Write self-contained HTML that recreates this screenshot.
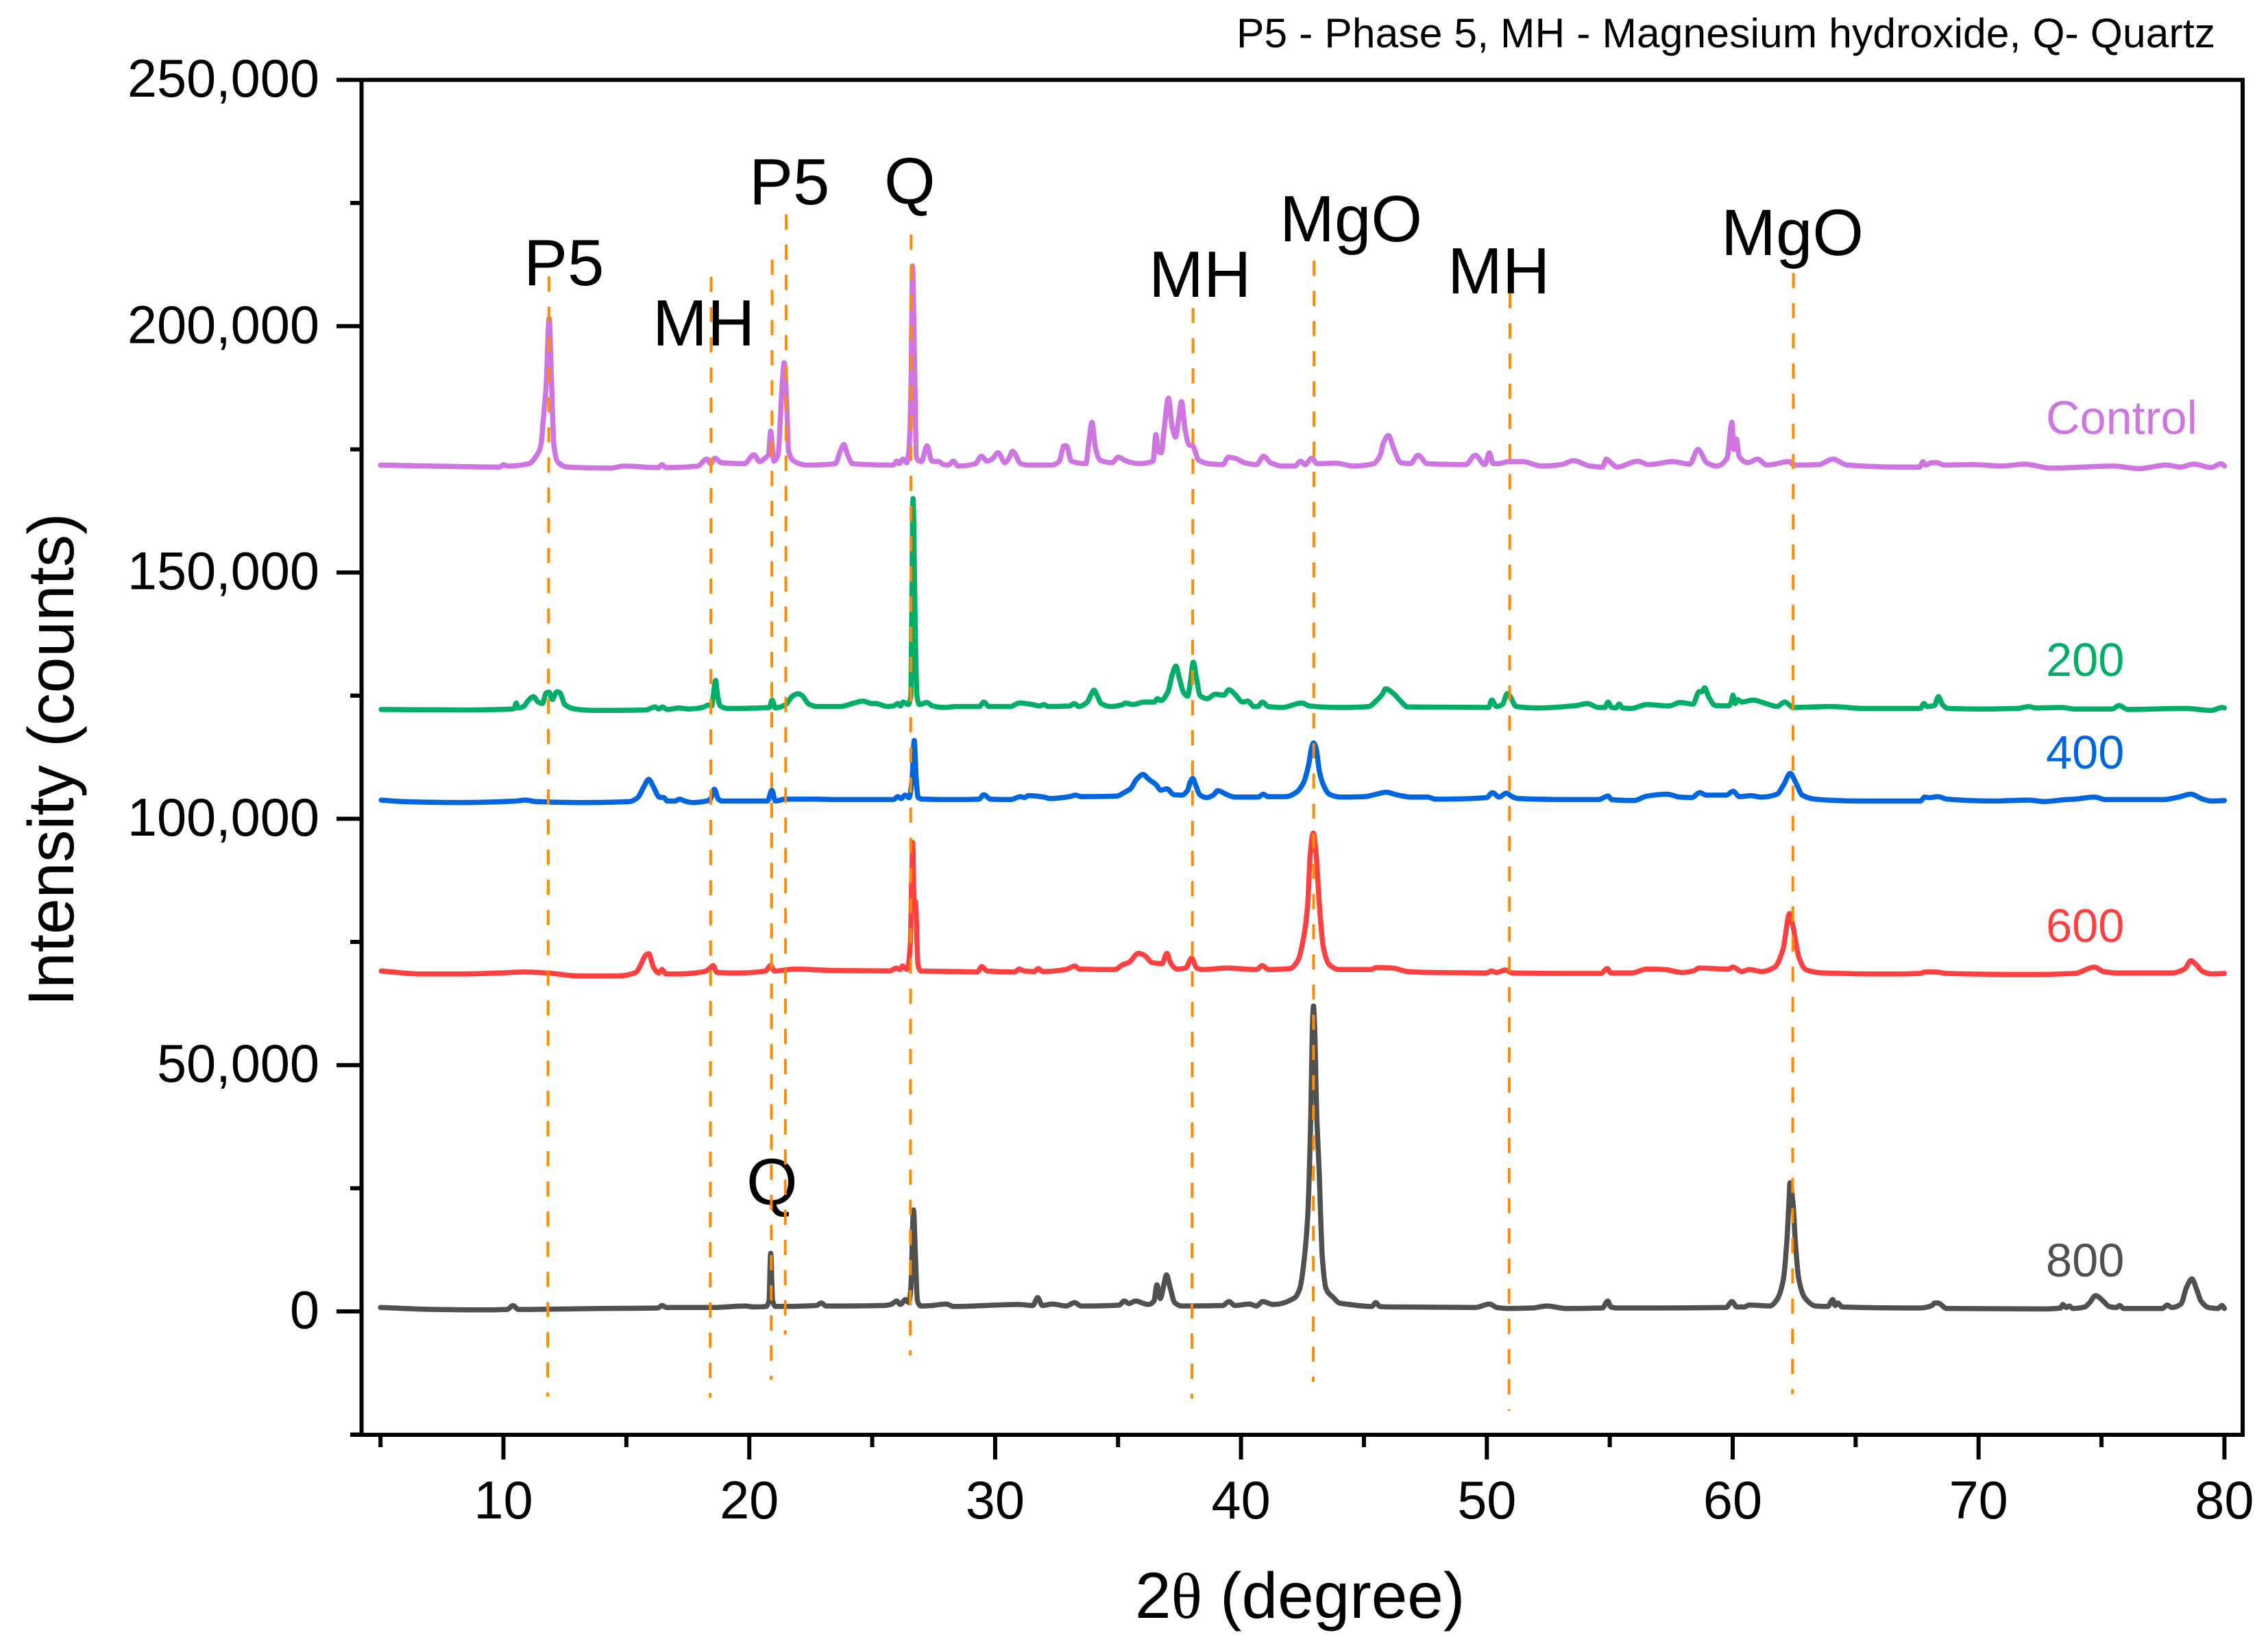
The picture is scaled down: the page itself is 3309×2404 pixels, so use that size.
<!DOCTYPE html>
<html lang="en">
<head>
<meta charset="utf-8">
<title>XRD patterns</title>
<style>
html,body{margin:0;padding:0;background:#fff;}
svg{display:block;}
text{font-family:"Liberation Sans",Arial,sans-serif;fill:#000;}
</style>
</head>
<body>
<svg id="chart" xmlns="http://www.w3.org/2000/svg" width="3309" height="2404" viewBox="0 0 3309 2404">
<rect x="0" y="0" width="3309" height="2404" fill="#fff"/>
<g id="series-layer" fill="none" stroke-width="7.5" stroke-linejoin="round" stroke-linecap="round"></g>
<text x="1804" y="69" font-size="60.5" textLength="1428">P5 - Phase 5, MH - Magnesium hydroxide, Q- Quartz</text>
<text x="764" y="416" font-size="96">P5</text>
<text x="952" y="504" font-size="96">MH</text>
<text x="1093" y="298" font-size="96">P5</text>
<text x="1290" y="297" font-size="96">Q</text>
<text x="1676" y="433" font-size="96">MH</text>
<text x="1867" y="352" font-size="96">MgO</text>
<text x="2112" y="428" font-size="96">MH</text>
<text x="2511" y="372" font-size="96">MgO</text>
<text x="1089" y="1757" font-size="96">Q</text>
<text x="2985" y="633" font-size="68.5" style="fill:#CE75E2">Control</text>
<text x="2985" y="986" font-size="68.5" style="fill:#00AE68">200</text>
<text x="2985" y="1121" font-size="68.5" style="fill:#0066E0">400</text>
<text x="2985" y="1374" font-size="68.5" style="fill:#FF4040">600</text>
<text x="2985" y="1862" font-size="68.5" style="fill:#505050">800</text>
<g id="marker-layer" fill="none" stroke="#FF8C00" stroke-width="4"></g>
<g id="axis-layer" stroke="#000" fill="none" stroke-width="6">
<path d="M491 116.5H3272V2093H511M527.5 116.5V2093"/>
</g>
<g id="label-layer"></g>
<text x="1656" y="2360" font-size="94.5">2<tspan style="font-family:'Liberation Serif',serif">θ</tspan> (degree)</text>
<text transform="translate(107 1468) rotate(-90)" x="0" y="0" font-size="94.5">Intensity (counts)</text>
</svg>
<script>
const xMajorTicks = [10, 20, 30, 40, 50, 60, 70, 80];
const xMinorTicks = [5, 15, 25, 35, 45, 55, 65, 75];
const yMajorTicks = [0, 50000, 100000, 150000, 200000, 250000];
const yMinorTicks = [-25000, 25000, 75000, 125000, 175000, 225000];
const yTickLabels = ["0", "50,000", "100,000", "150,000", "200,000", "250,000"];

const markerPhases = ["P5", "MH", "Q", "P5", "Q", "MH", "MgO", "MH", "MgO"];
const markerThetaTop = [11.85, 18.45, 20.93, 21.5, 26.58, 38.05, 42.97, 50.94, 62.47];
const markerThetaBottom = [11.80, 18.41, 20.89, 21.46, 26.55, 38.0, 42.94, 50.9, 62.43];
const markerTopCounts = [210100, 210000, 213500, 222700, 218600, 203700, 213300, 206700, 210800];
const markerBottomCounts = [-17300, -17500, -13900, -4700, -8900, -17700, -14300, -20200, -16800];

const seriesNames = ["control", "200", "400", "600", "800"];
const seriesColors = ["#CE75E2", "#00AE68", "#0066E0", "#FF4040", "#505050"];

/* each point: [2-theta in degrees, intensity in thousands of counts] */
const controlPoints = [[5,171.8],[9.86,171.4],[10,171.9],[10.16,171.6],[11.04,172.1],[11.33,173.6],[11.53,176],[11.62,181],[11.74,188.1],[11.86,201.6],[11.96,188.1],[12.05,176],[12.2,172.5],[12.6,171.4],[14.36,171.2],[14.9,171.6],[16.3,171.3],[16.45,171.9],[16.6,171.3],[17.9,171.6],[18.27,173],[18.43,172.1],[18.6,173.2],[18.86,172.3],[19.8,172.1],[20.19,173.9],[20.42,172.5],[20.68,173.4],[20.78,173.9],[20.87,178.7],[21,172.6],[21.17,173.9],[21.32,186.7],[21.42,192.6],[21.52,184.6],[21.6,174.6],[21.85,172.5],[22.34,171.8],[23.5,172.1],[23.7,174.6],[23.85,176],[24,173.9],[24.2,172.1],[25.86,171.8],[26,172.6],[26.1,172.1],[26.25,173],[26.41,172.3],[26.5,175.3],[26.58,188.1],[26.64,212.2],[26.72,193.4],[26.8,173.2],[27,172.5],[27.23,175.7],[27.43,172.6],[27.72,172.5],[27.9,171.9],[28.1,171.8],[28.3,172.6],[28.5,171.6],[29.2,172.1],[29.44,173.6],[29.67,172.6],[29.87,173],[30.12,174.3],[30.4,172.3],[30.56,173.2],[30.71,174.6],[31.04,172.1],[31.34,171.8],[32.3,171.8],[32.6,172.5],[32.8,175.7],[32.9,175.7],[33.1,172.6],[33.7,172.1],[33.8,176],[33.94,180.5],[34.08,175.3],[34.27,172.8],[34.76,172.3],[35,173.4],[35.35,172.6],[35.84,172.1],[36.42,172.6],[36.54,178],[36.64,174.6],[36.76,174.3],[36.87,178.9],[37.05,185.4],[37.2,179.6],[37.34,177.5],[37.46,181],[37.58,184.7],[37.73,178.9],[37.89,175.9],[38.03,175.7],[38.28,172.8],[38.67,172.1],[39.26,171.9],[39.49,173.4],[39.75,173.2],[40.14,172.3],[40.63,171.9],[40.92,173.6],[41.2,172.3],[41.7,171.6],[42.19,171.6],[42.43,172.6],[42.6,171.9],[42.88,173.2],[43.1,172.1],[43.85,172.2],[44.6,171.6],[45.4,172.1],[45.67,173.9],[45.8,176.4],[46,177.8],[46.2,175.3],[46.5,172.3],[46.89,172.1],[47.2,173.8],[47.57,172.1],[49.14,171.9],[49.53,173.8],[49.92,171.9],[50.1,174.3],[50.25,172.1],[50.5,172.1],[50.86,172.5],[51.45,172.5],[52.24,171.6],[53.03,171.9],[53.52,172.7],[54.2,171.6],[54.7,171.4],[54.86,173],[55.04,172.3],[55.3,171.4],[56.14,172.6],[56.58,171.9],[57.56,172.5],[58.25,172],[58.59,175],[58.94,172.3],[59.34,171.6],[59.77,173.2],[59.97,180.5],[60.05,175],[60.15,177.1],[60.26,173.6],[60.62,172.3],[61,173],[61.4,171.8],[62.3,172.5],[62.49,171.8],[63.5,171.9],[64.07,173],[64.66,171.8],[66.93,171.4],[67.6,171.4],[67.74,172.5],[67.85,171.8],[68.1,172.3],[68.3,172.3],[68.6,171.8],[69.8,171.9],[70.97,171.6],[71.86,172],[72.94,171.2],[75.5,171.6],[76.5,171.1],[77.67,171.8],[78.2,171.4],[78.76,172],[79.45,171.3],[79.88,172.1],[80,171.6]];

const points200 = [[5.03,122.2],[8.26,122.1],[10.34,122.3],[10.44,122.4],[10.52,123.5],[10.6,122.5],[10.82,122.8],[11.01,124],[11.22,124.8],[11.41,123.7],[11.59,123.4],[11.73,125.5],[11.86,125.7],[11.99,124.2],[12.12,125.5],[12.18,125.8],[12.29,125.6],[12.5,123.2],[12.9,122.3],[13.7,122],[15.78,122.1],[16.18,122.7],[16.31,122.3],[16.47,122.7],[16.66,122.2],[17.14,122.5],[17.54,122.3],[18.1,122.6],[18.34,123.1],[18.47,122.9],[18.55,125.6],[18.63,128.1],[18.71,125],[18.82,122.9],[19.14,122.4],[20.82,122.6],[20.93,124.1],[21.06,122.5],[21.46,123.1],[21.78,125],[21.99,125.4],[22.15,125],[22.42,123.3],[22.74,122.8],[23.7,122.8],[24.26,123.5],[24.62,123.9],[24.98,123.4],[25.14,123.4],[25.62,122.8],[25.86,122.9],[26.04,123.4],[26.15,122.9],[26.26,123.7],[26.47,123.2],[26.57,125],[26.66,165],[26.76,135.7],[26.82,125],[26.92,123.2],[27.22,123.6],[27.46,122.9],[27.94,122.6],[28.42,122.8],[28.55,122.8],[29.35,122.8],[29.54,123.7],[29.75,122.8],[30.63,122.8],[30.98,123.5],[31.51,123.2],[31.8,122.9],[31.99,123.2],[32.15,122.8],[33.03,122.9],[33.22,123.4],[33.4,122.8],[33.75,123.7],[33.91,125.3],[34.02,126.1],[34.15,125],[34.31,123.4],[34.71,122.8],[35.19,123.2],[35.3,123.5],[35.59,123.2],[36.07,123.7],[36.47,123.7],[36.6,124.4],[36.74,124],[37.03,125.8],[37.19,129],[37.35,131],[37.51,128.2],[37.67,125.6],[37.83,124.9],[37.94,127.7],[38.06,131.8],[38.18,128.8],[38.34,125],[38.63,124.4],[38.95,125.3],[39.3,125.1],[39.51,126.2],[39.75,125.3],[40.07,123.7],[40.28,123.9],[40.52,122.8],[40.68,122.8],[40.87,123.7],[41.11,122.8],[41.67,122.6],[42.47,123.5],[42.79,122.9],[44.07,122.6],[45.19,122.8],[45.51,124],[45.75,125.3],[45.88,126.4],[46.23,125.3],[46.47,124],[46.79,122.7],[50.07,122.6],[50.2,124.1],[50.39,122.8],[50.63,123.2],[50.83,125.4],[50.95,124.8],[51.19,122.8],[52.07,122.5],[53.64,123],[54.09,123.4],[54.54,122.6],[54.8,122.6],[54.93,123.7],[55.08,122.6],[55.25,122.5],[55.38,123.3],[55.52,122.5],[55.88,122.4],[56.51,123.2],[57.41,122.9],[57.86,123.6],[58.39,123.3],[58.63,125.8],[58.75,125.8],[58.86,126.6],[59.02,124.8],[59.29,123],[59.83,122.9],[59.94,123.7],[60.01,125.1],[60.1,123.4],[60.2,124.2],[60.37,123.7],[60.82,124.1],[61.35,123.4],[61.8,122.8],[62.11,123.7],[62.47,122.6],[64.05,122.8],[65.3,122.4],[67.63,122.4],[67.78,123.4],[67.9,122.8],[68.2,123],[68.37,124.8],[68.53,123.2],[68.75,122.4],[70.14,122.3],[71.58,122.4],[72.06,122.8],[72.3,122.5],[73.37,122.6],[73.91,122.3],[75.44,122.3],[75.71,123],[76.07,122.2],[78.4,122.4],[79.47,122],[79.92,122.6],[80,122.5]];

const points400 = [[5.03,103.8],[5.86,103.5],[8.26,103.3],[10.5,103.6],[10.9,103.8],[11.3,103.5],[13.06,103.3],[15.14,103.5],[15.46,104.3],[15.7,106.4],[15.91,108],[16.1,106.5],[16.34,104.4],[16.53,104.3],[16.66,103.6],[16.98,103.6],[17.17,104],[17.38,103.6],[17.7,103.3],[18.26,103.6],[18.42,104],[18.58,106],[18.74,104],[18.9,103.6],[20.74,103.6],[20.92,105.8],[21.06,103.6],[21.46,104],[22.66,104],[23.46,103.9],[25.86,103.9],[26.04,104.5],[26.18,104.1],[26.33,104.8],[26.5,104.3],[26.62,108],[26.71,115.9],[26.79,108],[26.87,104.3],[27.06,104],[28.55,103.9],[29.35,104],[29.54,104.9],[29.8,104],[30.63,103.9],[31.03,104.5],[31.19,104.3],[31.35,104.7],[32,104.4],[32.23,104.1],[33.03,104.5],[33.27,104.8],[33.51,104.5],[34.95,104.6],[35.27,105.4],[35.51,106.1],[35.75,108],[36.02,109],[36.23,108.1],[36.55,106.9],[36.74,105.8],[36.98,106.1],[37.27,104.9],[37.59,104.8],[37.83,105.8],[37.93,107.4],[38.04,108.2],[38.15,106.9],[38.34,104.8],[38.6,104.3],[38.87,104.8],[39.06,105.7],[39.43,104.9],[39.75,104.4],[40.71,104.4],[40.9,105],[41.11,104.5],[41.83,104.5],[42.23,105.3],[42.55,107.4],[42.76,111.2],[42.87,114.4],[42.95,115.4],[43.05,114.4],[43.19,109.6],[43.35,106.9],[43.59,105],[44.07,104.4],[45.03,104.5],[45.51,105],[45.91,105.4],[46.31,104.9],[46.95,104.4],[47.59,104.4],[47.91,104],[49.99,104.3],[50.23,105.3],[50.5,104.4],[50.79,105.2],[51.03,104.5],[51.27,104.1],[53.64,103.9],[54.54,103.9],[54.93,104.6],[55.08,103.9],[55.97,103.7],[56.51,104.6],[57.32,105],[57.86,104.4],[58.34,104.3],[58.66,105.3],[58.93,104.8],[59.74,104.8],[60.01,105.6],[60.28,104.5],[60.73,104.7],[61.17,104.4],[61.8,105],[62.07,106.9],[62.34,109.2],[62.56,107.4],[62.83,104.8],[63.33,104],[65.12,103.6],[67.63,103.6],[67.81,104.4],[67.99,104.3],[68.35,104.5],[68.71,104],[70.68,103.6],[72.03,103.8],[72.66,103.5],[73.55,103.9],[73.91,104],[74.72,104.4],[75.17,103.9],[77.5,103.9],[78.13,104.4],[78.63,105],[79.12,104],[79.47,103.6],[80,103.7]];

const points600 = [[5.03,69.1],[6.66,68.5],[8.26,68.5],[9.86,68.7],[10.82,68.9],[11.78,68.7],[13.06,68.1],[14.66,68.1],[15.38,68.8],[15.59,70.4],[15.78,72.3],[15.91,72.6],[16.1,69.9],[16.31,68.7],[16.45,69.4],[16.62,68.5],[17.06,68.5],[18.18,69],[18.38,69.6],[18.53,70.2],[18.69,68.8],[19.46,68.7],[20.66,69.1],[20.87,70.2],[21.03,69.1],[21.86,69.5],[23.46,69.2],[25.7,69.1],[25.99,69.7],[26.12,69.4],[26.23,70.1],[26.42,69.4],[26.55,74.4],[26.65,95.2],[26.7,83.5],[26.76,83.2],[26.86,70.4],[26.98,69.1],[28.55,69],[29.27,68.9],[29.46,70],[29.67,69.1],[30.79,68.9],[30.98,69.5],[31.19,69.1],[31.59,69],[31.75,69.6],[31.94,69],[32.87,69.4],[33.24,70.1],[33.43,69.5],[34.87,69.4],[35.19,70.4],[35.43,70.8],[35.83,72.7],[36.07,72.3],[36.39,70.8],[36.79,70.6],[36.98,72.7],[37.14,70.7],[37.4,69.5],[37.75,69.7],[37.99,71.7],[38.2,69.7],[38.47,69.4],[39.43,69.7],[40.63,69.4],[40.87,70.2],[41.11,69.4],[41.99,69.6],[42.31,71.2],[42.55,76],[42.71,82.4],[42.82,93.1],[42.94,97.1],[43.05,93.1],[43.19,82.4],[43.35,73.9],[43.59,70.4],[43.99,69.4],[45.27,69.4],[45.51,69.8],[46.15,69.7],[46.79,69],[47.75,68.8],[49.99,68.7],[50.19,69.1],[50.39,68.8],[50.76,69.3],[51.03,68.7],[53.64,68.6],[54.63,68.6],[54.9,69.6],[55.04,68.7],[55.88,68.7],[56.51,69.5],[57.23,69.4],[57.95,68.8],[58.39,69.1],[58.63,69.7],[59.83,69.5],[60.01,69.9],[60.37,69],[60.67,69.4],[61.17,69],[61.71,69.9],[62.04,73.4],[62.32,80.8],[62.43,78.7],[62.7,71.8],[62.97,69.4],[63.69,68.7],[66.2,68.5],[67.63,68.6],[67.81,68.9],[68.26,68.9],[68.71,68.6],[72.12,68.4],[73.91,68.6],[74.72,69.9],[75.08,69],[75.62,68.7],[77.86,68.7],[78.4,69.6],[78.63,71.2],[78.85,70.4],[79.12,69],[79.47,68.5],[80,68.6]];

const points800 = [[5,0.8],[7.12,0.4],[9.08,0.3],[10.16,0.4],[10.39,1.2],[10.6,0.4],[13.97,0.6],[16.28,0.7],[16.45,1.2],[16.63,0.8],[18.47,0.8],[19.84,1.1],[20.19,0.9],[20.68,1],[20.8,2.1],[20.87,11.8],[20.95,2.1],[21.07,1],[22.73,1.2],[22.93,1.7],[23.12,1.1],[25.47,1.2],[25.76,1.4],[26,2.1],[26.14,1.4],[26.35,2.4],[26.49,1.8],[26.57,4.6],[26.68,20.6],[26.76,10.9],[26.84,2.1],[26.98,1.1],[27.43,1.2],[28.01,1.5],[28.31,1],[30.95,1.4],[31.53,1.2],[31.73,2.8],[31.92,1.2],[32.32,1.5],[32.9,1.1],[33.23,1.8],[33.49,1.1],[35.05,1.3],[35.25,2.1],[35.45,1.6],[35.7,2.1],[36.23,1.4],[36.46,2.1],[36.58,5.4],[36.72,2.6],[36.83,4.6],[36.97,7.4],[37.13,4.6],[37.3,1.8],[37.6,1.1],[39.26,1.2],[39.51,2],[39.75,1.2],[40.34,1.5],[40.63,1.1],[40.88,2],[41.31,1.4],[42.19,2.8],[42.39,4.6],[42.58,10.9],[42.72,20],[42.84,40],[42.9,57],[42.95,62],[43,57],[43.08,40],[43.17,29.6],[43.31,10.9],[43.46,4.6],[43.76,2.8],[44,1.7],[44.25,1.5],[45.32,1],[45.48,1.8],[45.65,1],[46,0.9],[49.53,0.8],[50.11,1.5],[50.41,0.8],[50.86,0.6],[51.85,0.7],[52.44,1.1],[53.23,0.6],[54.7,0.7],[54.92,2.1],[55.04,0.9],[55.3,0.7],[56.77,0.7],[59.73,0.8],[59.97,2],[60.17,0.9],[60.48,0.9],[60.66,1.3],[61.51,1.1],[61.8,2.4],[62.06,6.5],[62.2,14],[62.3,23.4],[62.33,26.1],[62.45,22.1],[62.55,14],[62.69,6.5],[62.93,2.8],[63.38,1.1],[63.87,1],[64.07,2.4],[64.17,1.2],[64.27,1.7],[64.46,0.9],[67.62,0.7],[68.11,1.2],[68.21,1.7],[68.35,1.7],[68.7,0.6],[72.55,0.5],[73.34,0.7],[73.43,1.4],[73.57,0.8],[73.69,1.1],[73.83,0.6],[74.32,0.9],[74.52,1.8],[74.76,3.2],[75.07,2.1],[75.31,1],[75.6,0.8],[75.74,1.2],[75.9,0.6],[77.48,0.6],[77.67,1.3],[77.87,0.8],[78.23,1.5],[78.46,4.9],[78.68,6.6],[78.86,4.6],[79.05,2.1],[79.35,0.8],[79.74,0.6],[79.9,1.2],[80,0.6]];

const seriesPoints = [controlPoints, points200, points400, points600, points800];

const SVG_NS = 'http://www.w3.org/2000/svg';

function xScale(theta) {
  return 734.5 + (theta - 10) * 35.87;
}
function yScale(counts) {
  return 1913 - (counts / 50000) * 359.3;
}

/* monotone cubic path through the points, so peaks round off without overshoot */
function monotonePath(px, py) {
  const n = px.length;
  const slopes = [];
  for (let i = 0; i < n - 1; i++) {
    slopes.push((py[i + 1] - py[i]) / (px[i + 1] - px[i]));
  }
  const tangents = [slopes[0]];
  for (let i = 1; i < n - 1; i++) {
    if (slopes[i - 1] * slopes[i] <= 0) {
      tangents.push(0);
    } else {
      const w1 = 2 * (px[i + 1] - px[i]) + (px[i] - px[i - 1]);
      const w2 = (px[i + 1] - px[i]) + 2 * (px[i] - px[i - 1]);
      tangents.push((w1 + w2) / (w1 / slopes[i - 1] + w2 / slopes[i]));
    }
  }
  tangents.push(slopes[n - 2]);
  let d = 'M' + px[0].toFixed(1) + ' ' + py[0].toFixed(1);
  for (let i = 0; i < n - 1; i++) {
    const h = (px[i + 1] - px[i]) / 3;
    d += 'C' + (px[i] + h).toFixed(1) + ' ' + (py[i] + tangents[i] * h).toFixed(1) + ' ' +
      (px[i + 1] - h).toFixed(1) + ' ' + (py[i + 1] - tangents[i + 1] * h).toFixed(1) + ' ' +
      px[i + 1].toFixed(1) + ' ' + py[i + 1].toFixed(1);
  }
  return d;
}

const seriesLayer = document.getElementById('series-layer');
seriesPoints.forEach(function (points, i) {
  const el = document.createElementNS(SVG_NS, 'path');
  
  
  const px = points.map(function (p) { return xScale(p[0]); });
  const py = points.map(function (p) { return yScale(p[1] * 1000); });
  el.setAttribute('d', monotonePath(px, py));
  el.setAttribute('stroke', seriesColors[i]);
  seriesLayer.appendChild(el);
});

const markerLayer = document.getElementById('marker-layer');
markerPhases.forEach(function (phase, i) {
  const el = document.createElementNS(SVG_NS, 'line');
  
  
  el.setAttribute('x1', xScale(markerThetaTop[i]));
  el.setAttribute('y1', yScale(markerTopCounts[i]));
  el.setAttribute('x2', xScale(markerThetaBottom[i]));
  el.setAttribute('y2', yScale(markerBottomCounts[i]));
  el.setAttribute('stroke-dasharray', '22.2 21.8');
  markerLayer.appendChild(el);
});

const axisLayer = document.getElementById('axis-layer');
const labelLayer = document.getElementById('label-layer');

function addTickLine(name, x1, y1, x2, y2) {
  const el = document.createElementNS(SVG_NS, 'line');
  
  
  el.setAttribute('x1', x1);
  el.setAttribute('y1', y1);
  el.setAttribute('x2', x2);
  el.setAttribute('y2', y2);
  axisLayer.appendChild(el);
}

xMajorTicks.forEach(function (v) {
  addTickLine('x-major-tick', xScale(v), 2093, xScale(v), 2129);
  const t = document.createElementNS(SVG_NS, 'text');
  
  
  t.setAttribute('x', xScale(v));
  t.setAttribute('y', 2215);
  t.setAttribute('font-size', '77.5');
  t.setAttribute('text-anchor', 'middle');
  t.textContent = String(v);
  labelLayer.appendChild(t);
});
xMinorTicks.forEach(function (v) {
  addTickLine('x-minor-tick', xScale(v), 2093, xScale(v), 2111);
});
yMajorTicks.forEach(function (v, i) {
  addTickLine('y-major-tick', 491, yScale(v), 527.5, yScale(v));
  const t = document.createElementNS(SVG_NS, 'text');
  
  
  t.setAttribute('x', 466);
  t.setAttribute('y', yScale(v) + 24.5);
  t.setAttribute('font-size', '77.5');
  t.setAttribute('text-anchor', 'end');
  t.textContent = yTickLabels[i];
  labelLayer.appendChild(t);
});
yMinorTicks.forEach(function (v) {
  addTickLine('y-minor-tick', 511, yScale(v), 527.5, yScale(v));
});
</script>
</body>
</html>
